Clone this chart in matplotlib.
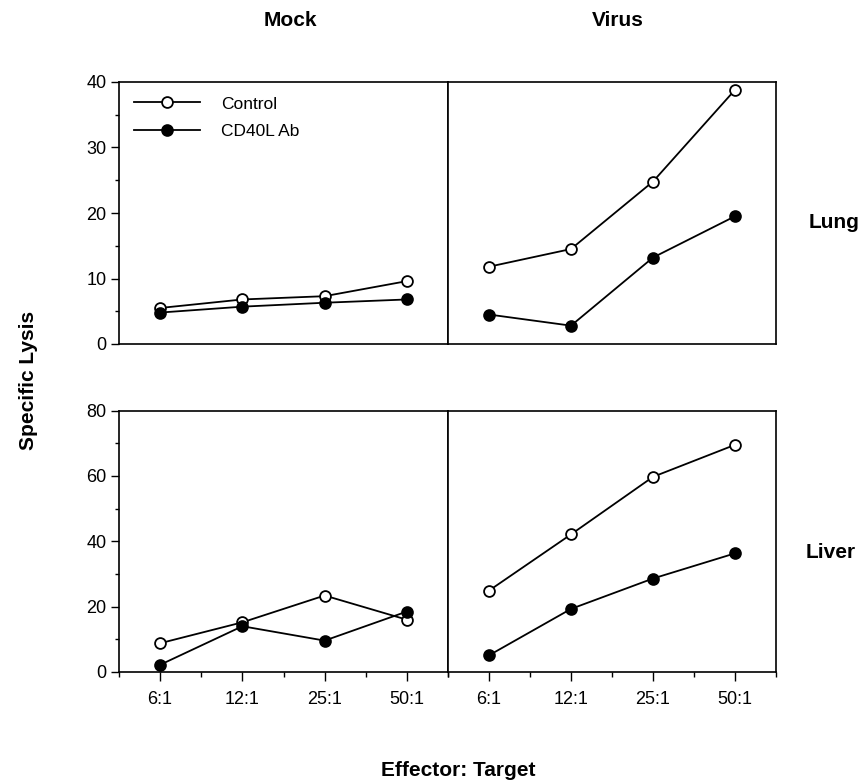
import matplotlib
matplotlib.use("Agg")
import matplotlib.pyplot as plt
from matplotlib.ticker import MultipleLocator, FixedLocator, NullLocator

plt.rcParams['font.family'] = ['Liberation Sans', 'DejaVu Sans']

# E:T ratios and specific lysis (%)
ratios = ["6:1", "12:1", "25:1", "50:1"]
lung_mock_control = [5.5, 6.8, 7.3, 9.6]
lung_mock_cd40l = [4.8, 5.7, 6.3, 6.8]
lung_virus_control = [11.8, 14.5, 24.8, 38.8]
lung_virus_cd40l = [4.5, 2.8, 13.2, 19.5]
liver_mock_control = [8.8, 15.2, 23.4, 16.0]
liver_mock_cd40l = [2.2, 14.0, 9.6, 18.5]
liver_virus_control = [24.9, 42.1, 59.7, 69.5]
liver_virus_cd40l = [5.1, 19.3, 28.6, 36.3]

W, H = 862, 780
fig = plt.figure(figsize=(W / 100, H / 100), dpi=100)


def px_axes(x0, x1, ytop, ybot):
    return fig.add_axes([x0 / W, 1 - ybot / H, (x1 - x0) / W, (ybot - ytop) / H])


ax_lm = px_axes(119, 448, 82, 344)
ax_lv = px_axes(448, 776, 82, 344)
ax_hm = px_axes(119, 448, 410.5, 672)
ax_hv = px_axes(448, 776, 410.5, 672)

xs = list(range(1, len(ratios) + 1))
line_kw = dict(color="black", lw=1.3, markersize=7.8, markeredgewidth=1.3,
               markeredgecolor="black")

panels = [
    (ax_lm, lung_mock_control, lung_mock_cd40l, 40, 10, 5),
    (ax_lv, lung_virus_control, lung_virus_cd40l, 40, 10, 5),
    (ax_hm, liver_mock_control, liver_mock_cd40l, 80, 20, 10),
    (ax_hv, liver_virus_control, liver_virus_cd40l, 80, 20, 10),
]

for ax, ctrl, cd40, ymax, major, minor in panels:
    ax.plot(xs, ctrl, marker="o", markerfacecolor="white", label="Control", **line_kw)
    ax.plot(xs, cd40, marker="o", markerfacecolor="black", label="CD40L Ab", **line_kw)
    ax.set_xlim(0.5, 4.5)
    ax.set_ylim(0, ymax)
    ax.yaxis.set_major_locator(MultipleLocator(major))
    ax.yaxis.set_minor_locator(MultipleLocator(minor))
    for s in ax.spines.values():
        s.set_linewidth(1.2)
    ax.tick_params(axis="y", which="major", length=6, width=1.0, labelsize=13, pad=3)
    ax.tick_params(axis="y", which="minor", length=2.8, width=1.0)

# x ticks only on the lower row
for ax in (ax_lm, ax_lv):
    ax.xaxis.set_major_locator(NullLocator())
    ax.xaxis.set_minor_locator(NullLocator())
for ax in (ax_hm, ax_hv):
    ax.set_xticks(xs)
    ax.set_xticklabels(ratios)
    ax.xaxis.set_minor_locator(FixedLocator([0.5, 1.5, 2.5, 3.5, 4.5]))
    ax.tick_params(axis="x", which="major", length=6.5, width=1.0, labelsize=13, pad=7)
    ax.tick_params(axis="x", which="minor", length=3.5, width=1.0)

# right column shares the y scale, no y ticks
for ax in (ax_lv, ax_hv):
    ax.yaxis.set_major_locator(NullLocator())
    ax.yaxis.set_minor_locator(NullLocator())

ax_lm.legend(loc="upper left", bbox_to_anchor=(0.045, 0.945), frameon=False,
             borderpad=0, borderaxespad=0, handlelength=3.8, handletextpad=1.25,
             labelspacing=0.7, numpoints=1, fontsize=12.5)

bold = dict(fontsize=15, fontweight="bold")
fig.text(290 / W, 1 - 21 / H, "Mock", ha="center", va="center", **bold)
fig.text(618 / W, 1 - 21 / H, "Virus", ha="center", va="center", **bold)
fig.text(809 / W, 1 - 222 / H, "Lung", ha="left", va="center", **bold)
fig.text(806 / W, 1 - 553 / H, "Liver", ha="left", va="center", **bold)
fig.text(29 / W, 1 - 380 / H, "Specific Lysis", ha="center", va="center",
         rotation=90, **bold)
fig.text(458 / W, 1 - 770 / H, "Effector: Target", ha="center", va="center", **bold)

fig.savefig("out.png", dpi=100)
